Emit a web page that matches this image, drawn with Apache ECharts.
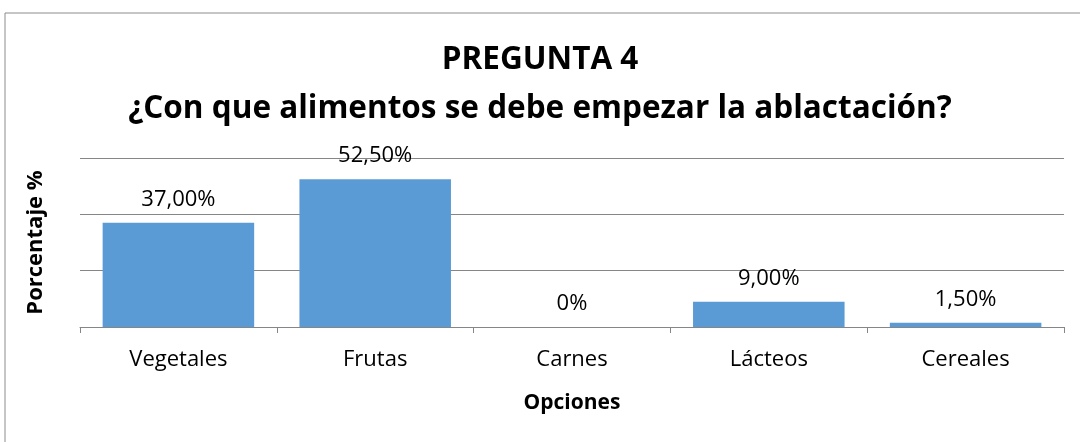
<!DOCTYPE html>
<html>
<head>
<meta charset="utf-8">
<script src="https://cdn.jsdelivr.net/npm/echarts@6/dist/echarts.min.js"></script>
<style>
  html, body { margin: 0; padding: 0; background: #fff; }
  #main { width: 1080px; height: 442px; }
</style>
</head>
<body>
<div id="main"></div>
<script>
// datos de la pregunta 4
var categorias = ['Vegetales', 'Frutas', 'Carnes', 'Lácteos', 'Cereales'];
var porcentajes = [37.0, 52.5, 0, 9.0, 1.5];
var etiquetas = ['37,00%', '52,50%', '0%', '9,00%', '1,50%'];

var fuente = '"Open Sans", "Noto Sans", sans-serif';
var myChart = echarts.init(document.getElementById('main'));
var option = {
    backgroundColor: '#fff',
    animation: false,
    title: {
        text: 'PREGUNTA 4\n¿Con que alimentos se debe empezar la ablactación?',
        left: 'center',
        top: 31,
        textStyle: {
            fontFamily: fuente,
            fontWeight: 'bold',
            fontSize: 31.5,
            lineHeight: 49,
            color: '#000'
        }
    },
    graphic: [{
        type: 'rect',
        shape: { x: 5, y: 13, width: 1090, height: 450 },
        style: { fill: 'none', stroke: '#8c8c8c', lineWidth: 1 },
        silent: true
    }],
    grid: { left: 80, top: 158, width: 984, height: 169 },
    xAxis: {
        type: 'category',
        data: categorias,
        name: 'Opciones',
        nameLocation: 'middle',
        nameGap: 66,
        nameTextStyle: { fontFamily: fuente, fontWeight: 'bold', fontSize: 21, color: '#000' },
        axisLine: { lineStyle: { color: '#868686' } },
        axisTick: { show: true, length: 6, lineStyle: { color: '#868686' } },
        axisLabel: { fontFamily: fuente, fontSize: 22, color: '#000', margin: 22 }
    },
    yAxis: {
        type: 'value',
        min: 0,
        max: 60,
        interval: 20,
        name: 'Porcentaje %',
        nameLocation: 'middle',
        nameGap: 33,
        nameTextStyle: { fontFamily: fuente, fontWeight: 'bold', fontSize: 22, color: '#000' },
        axisLabel: { show: false },
        axisLine: { show: false },
        axisTick: { show: false },
        splitLine: { lineStyle: { color: '#868686' } }
    },
    series: [{
        type: 'bar',
        data: porcentajes,
        barCategoryGap: '23%',
        itemStyle: { color: '#5b9bd5' },
        label: {
            show: true,
            position: 'top',
            distance: 12,
            fontFamily: fuente,
            fontSize: 22,
            color: '#000',
            formatter: function (p) { return etiquetas[p.dataIndex]; }
        }
    }]
};
myChart.setOption(option);
</script>
</body>
</html>
